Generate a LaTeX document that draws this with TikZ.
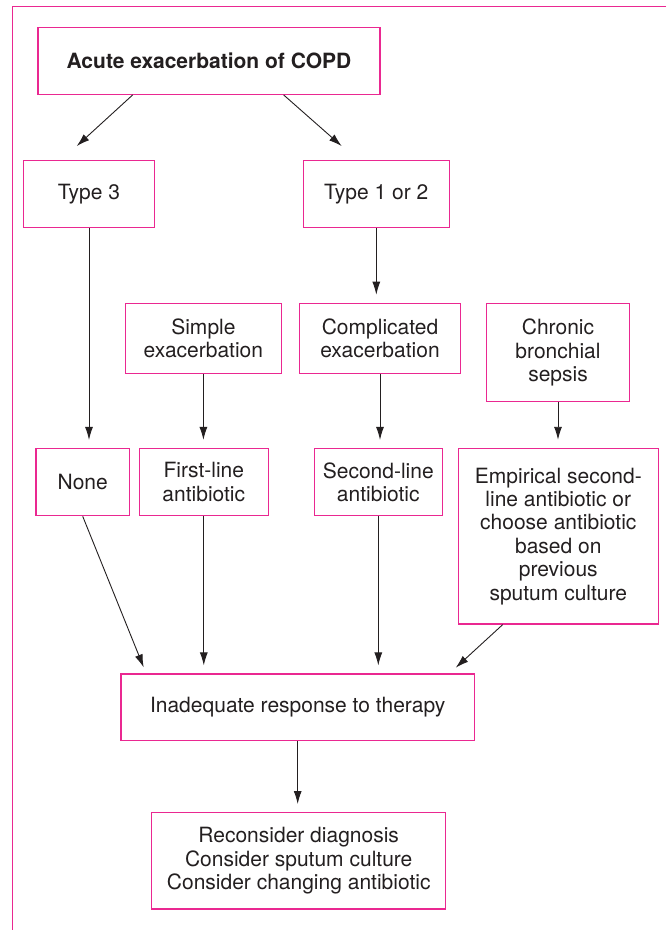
\documentclass[tikz,border=0pt]{standalone}
\usepackage{fontspec}
\setmainfont{TeX Gyre Heros}
\usepackage{tikz}
\usetikzlibrary{positioning}
\usetikzlibrary{calc}
\usetikzlibrary{arrows.meta}
\definecolor{boxpink}{RGB}{234,40,145}
\definecolor{inkgrey}{RGB}{35,31,32}
\tikzset{
  box/.style={draw=boxpink, line width=0.6pt, inner sep=0pt, align=center,
    text=inkgrey, font=\fontsize{10.5pt}{11.7pt}\selectfont},
  arr/.style={draw=inkgrey, line width=0.45pt, -{Latex[length=6.5pt,width=4pt]}, shorten >=4pt}
}
\begin{document}
\begin{tikzpicture}[x=0.5pt,y=-0.5pt]
\useasboundingbox (0,0) rectangle (666,930);
% frame
\draw[boxpink, line width=0.6pt] (666,6.7) -- (12.7,6.7) -- (12.7,930);
% boxes
\node[box, minimum width=171pt, minimum height=33.3pt] (acute) at (209,61) {\textbf{Acute exacerbation of COPD}};
\node[box, minimum width=65.3pt, minimum height=33.5pt] (type3) at (89,194.2) {Type 3};
\node[box, minimum width=73pt, minimum height=33.5pt] (type12) at (376.3,194.2) {Type 1 or 2};
\node[box, minimum width=77.8pt, minimum height=35.2pt] (simple) at (203.4,338.5) {Simple\\exacerbation};
\node[box, minimum width=80.3pt, minimum height=35.2pt] (compl) at (380,338.5) {Complicated\\exacerbation};
\node[box, minimum width=71.7pt, minimum height=49.2pt] (chronic) at (558,352.5) {Chronic\\bronchial\\sepsis};
\node[box, minimum width=46.7pt, minimum height=33.6pt] (none) at (82.7,482.1) {None};
\node[box, minimum width=64.5pt, minimum height=33.6pt] (first) at (203.8,482.1) {First-line\\antibiotic};
\node[box, minimum width=63.9pt, minimum height=33.6pt] (second) at (378.3,482.1) {Second-line\\antibiotic};
\node[box, minimum width=100pt, minimum height=87.8pt] (empir) at (558.3,536.2) {Empirical second-\\line antibiotic or\\choose antibiotic\\based on\\previous\\sputum culture};
\node[box, minimum width=176.7pt, minimum height=33.3pt] (inadeq) at (297.7,707.3) {Inadequate response to therapy};
\node[box, minimum width=147pt, minimum height=48.2pt] (recon) at (298.7,860.8) {Reconsider diagnosis\\Consider sputum culture\\Consider changing antibiotic};
% arrows
\draw[arr, shorten >=0pt] ($(acute.south west)+(95.3,0)$) -- ($(type3.north)+(-12.3,-14)$);
\draw[arr, shorten >=0pt] ($(acute.south east)+(-97,0)$) -- ($(type12.north)+(-34.6,-14)$);
\foreach \a/\b in {type3/none, type12/compl, simple/first, compl/second, chronic/empir, first/inadeq, second/inadeq, inadeq/recon}
\draw[arr] (\a.south) -- (\a.south |- \b.north);
\draw[arr, shorten >=0pt] (none.south) -- ($(inadeq.north west)+(23.3,-6)$);
\draw[arr, shorten >=0pt] ($(empir.south west)+(45,0)$) -- ($(inadeq.north east)+(-19.3,-5.7)$);
\end{tikzpicture}
\end{document}
